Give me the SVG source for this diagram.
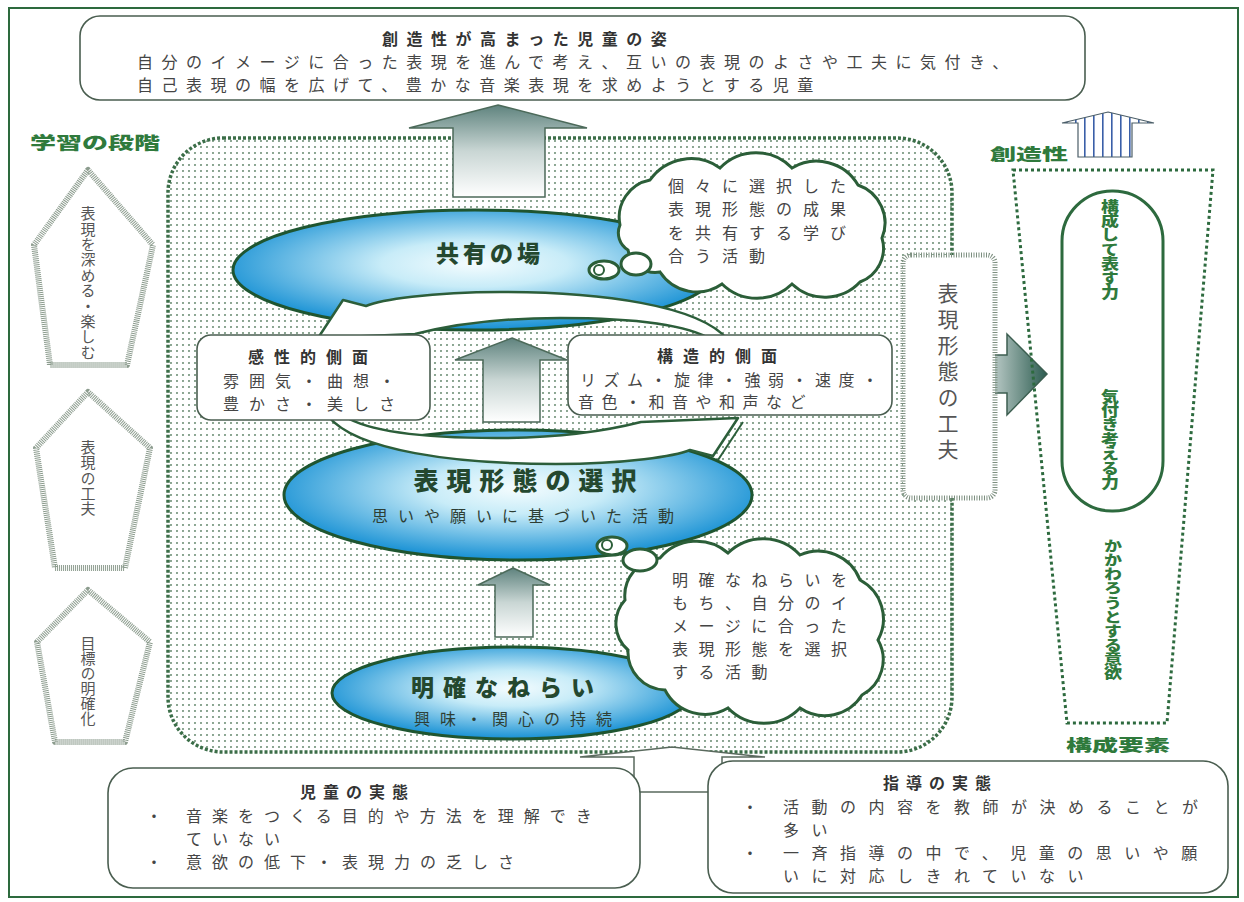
<svg xmlns="http://www.w3.org/2000/svg" width="1244" height="902" viewBox="0 0 1244 902">
<defs>
<style>
text{font-family:"Noto Sans CJK JP","Noto Sans",sans-serif;}
.body{font-size:16px;fill:#454545;}
.ttl{font-size:16px;fill:#333;font-weight:600;}
.heavy{font-weight:900;fill:#2f7a3c;}
.vgray{fill:#555;writing-mode:vertical-rl;}
.vgreen{fill:#2f7a3c;font-weight:900;writing-mode:vertical-rl;font-size:18px;}
.box{fill:#fff;stroke:#4a5e50;stroke-width:1.6;}
.pent{fill:#fff;stroke:#8c9c8e;stroke-width:6;stroke-dasharray:1 1;stroke-linejoin:round;}
.ell{stroke:#1f5530;stroke-width:3;}
.cloud{fill:#fff;stroke:#2b5e38;stroke-width:3;}
.band{fill:#fff;stroke:#2c5e3a;stroke-width:2.5;stroke-linejoin:round;}
.garrow{fill:url(#gArrow);stroke:#4c6a5a;stroke-width:1.5;}
.etxt{font-weight:900;fill:#24482f;}
</style>
<pattern id="dots" width="6" height="6" patternUnits="userSpaceOnUse"><rect width="6" height="6" fill="#fff"/><circle cx="3" cy="3" r="1.05" fill="#6f9077"/></pattern>
<pattern id="stripes" width="9" height="10" patternUnits="userSpaceOnUse"><rect width="9" height="10" fill="#fff"/><rect x="4" width="1.6" height="10" fill="#3a5fa8"/></pattern>
<radialGradient id="gBlue" cx="0.5" cy="0.45" r="0.55"><stop offset="0" stop-color="#f4fcfe"/><stop offset="0.35" stop-color="#c8ecf8"/><stop offset="1" stop-color="#1690d4"/></radialGradient>
<linearGradient id="gArrow" x1="0" y1="0" x2="0" y2="1"><stop offset="0" stop-color="#5f837e"/><stop offset="0.5" stop-color="#c9d6d4"/><stop offset="1" stop-color="#ffffff"/></linearGradient>
<linearGradient id="gRight" x1="0" y1="0" x2="1" y2="0"><stop offset="0" stop-color="#e4ebea"/><stop offset="1" stop-color="#2c5c50"/></linearGradient>
</defs>
<rect width="1244" height="902" fill="#fff"/>
<rect id="frame" x="9" y="8" width="1229" height="889" fill="none" stroke="#2d6a3e" stroke-width="2"/>

<g id="goal">
<rect class="box" x="80" y="16" width="1005" height="84" rx="20"/>
<text class="ttl" x="382" y="45" letter-spacing="8.5">創造性が高まった児童の姿</text>
<text class="body" x="137" y="68" letter-spacing="8.5">自分のイメージに合った表現を進んで考え、互いの表現のよさや工夫に気付き、</text>
<text class="body" x="137" y="91" letter-spacing="8.5">自己表現の幅を広げて、豊かな音楽表現を求めようとする児童</text>
</g>

<g id="stages">
<text class="heavy" x="30" y="149" font-size="17" textLength="130" lengthAdjust="spacingAndGlyphs">学習の段階</text>
<g id="stage3"><polygon class="pent" points="88,170 34,245 50,365 127,365 153,245"/><text class="vgray" x="88" y="206" font-size="15" letter-spacing="0.4">表現を深める・楽しむ</text></g>
<g id="stage2"><polygon class="pent" points="88,392 36,448 55,568 125,568 150,448"/><text class="vgray" x="88" y="440" font-size="15" letter-spacing="0.3">表現の工夫</text></g>
<g id="stage1"><polygon class="pent" points="88,590 37,642 55,742 125,742 150,642"/><text class="vgray" x="88" y="636" font-size="15" letter-spacing="0">目標の明確化</text></g>
</g>

<g id="region">
<rect x="168" y="138" width="784" height="614" rx="55" fill="url(#dots)" stroke="#3b6e48" stroke-width="3.5" stroke-dasharray="3 2"/>
</g>

<g id="connectors-back">
<polygon class="garrow" points="498,105 587,128 545,128 545,197 453,197 453,128 409,128"/>
</g>

<g id="share">
<ellipse class="ell" cx="475" cy="270" rx="242" ry="60" fill="url(#gBlue)"/>
<text class="etxt" x="490" y="262" font-size="23" text-anchor="middle" letter-spacing="4">共有の場</text>
</g>
<g id="select">
<ellipse class="ell" cx="518" cy="495" rx="234" ry="65" fill="url(#gBlue)"/>
<text class="etxt" x="529" y="490" font-size="25" text-anchor="middle" letter-spacing="8">表現形態の選択</text>
<text x="528" y="522" font-size="16" fill="#2e3e34" text-anchor="middle" letter-spacing="10">思いや願いに基づいた活動</text>
</g>
<g id="aim">
<ellipse class="ell" cx="512" cy="693" rx="180" ry="46" fill="url(#gBlue)"/>
<text class="etxt" x="507" y="696" font-size="23" text-anchor="middle" letter-spacing="9">明確なねらい</text>
<text x="518" y="725" font-size="16" fill="#2e3e34" text-anchor="middle" letter-spacing="10">興味・関心の持続</text>
</g>

<g id="connectors">
<path class="band" d="M 728 340 C 700 305 600 292 500 292 C 430 292 380 300 366 306 L 343 300 L 318 338 L 415 334 C 470 320 520 318 560 318 C 640 318 690 326 712 340 Z"/>
<path class="band" d="M 328 416 C 356 451 456 464 556 464 C 626 464 676 456 690 450 L 713 456 L 738 418 L 641 422 C 586 436 536 438 496 438 C 416 438 366 430 344 416 Z"/>
<line x1="718" y1="460" x2="743" y2="422" stroke="#2c5e3a" stroke-width="2"/>
<polygon class="garrow" points="512,338 567,360 540,360 540,422 483,422 483,360 455,360"/>
<polygon class="garrow" points="513,568 550,585 533,585 533,637 495,637 495,585 478,585"/>
<polygon points="977,355 1007,355 1007,334 1047,374 1007,415 1007,393 977,393" fill="url(#gRight)" stroke="#3c5e50" stroke-width="1.5"/>
<polygon points="1108,112 1154,123 1132,123 1132,157 1078,157 1078,123 1062,123" fill="url(#stripes)" stroke="#4b5e68" stroke-width="1.2"/>
<polygon points="1110,310 1135,323 1123,323 1123,360 1135,360 1110,373 1085,360 1097,360 1097,323 1085,323" fill="url(#stripes)" stroke="#4b5e68" stroke-width="1.2"/>
<polygon points="580,757 672,747 765,757 722,757 722,792 634,792 634,757" fill="#fff" stroke="#5a6a5e" stroke-width="1.5"/>
</g>

<g id="kansei">
<rect class="box" x="197" y="335" width="233" height="85" rx="14"/>
<text class="ttl" x="248" y="363" letter-spacing="10">感性的側面</text>
<text class="body" x="223" y="387" letter-spacing="10">雰囲気・曲想・</text>
<text class="body" x="223" y="410" letter-spacing="10">豊かさ・美しさ</text>
</g>
<g id="kouzou">
<rect class="box" x="568" y="335" width="324" height="80" rx="14"/>
<text class="ttl" x="657" y="362" letter-spacing="10">構造的側面</text>
<text class="body" x="580" y="386" letter-spacing="7.5">リズム・旋律・強弱・速度・</text>
<text class="body" x="578" y="408" letter-spacing="7.5">音色・和音や和声など</text>
</g>

<g id="cloud-share">
<path class="cloud" d="M 620 225 A 38 38 0 0 1 650 180 A 50 50 0 0 1 720 168 A 50 50 0 0 1 792 168 A 48 48 0 0 1 858 185 A 40 40 0 0 1 882 238 A 36 36 0 0 1 860 282 A 48 48 0 0 1 792 284 A 50 50 0 0 1 722 284 A 44 44 0 0 1 660 272 A 28 28 0 0 1 628 250 A 20 20 0 0 1 620 225 Z"/>
<ellipse class="cloud" cx="636" cy="264" rx="15" ry="11"/>
<ellipse class="cloud" cx="604" cy="270" rx="15" ry="9" stroke-width="2.5"/>
<circle cx="599" cy="270" r="5" fill="#fff" stroke="#2b5e38" stroke-width="2"/>
<text class="body" x="668" y="192" letter-spacing="11">個々に選択した</text>
<text class="body" x="668" y="215" letter-spacing="11">表現形態の成果</text>
<text class="body" x="668" y="239" letter-spacing="11">を共有する学び</text>
<text class="body" x="668" y="262" letter-spacing="11">合う活動</text>
</g>

<g id="cloud-select">
<path class="cloud" d="M 625 600 A 38 38 0 0 1 660 558 A 48 48 0 0 1 728 553 A 50 50 0 0 1 800 555 A 45 45 0 0 1 860 580 A 44 44 0 0 1 878 640 A 40 40 0 0 1 862 695 A 44 44 0 0 1 800 708 A 50 50 0 0 1 728 708 A 45 45 0 0 1 665 690 A 38 38 0 0 1 628 650 A 35 35 0 0 1 625 600 Z"/>
<ellipse class="cloud" cx="640" cy="560" rx="17" ry="11"/>
<ellipse class="cloud" cx="612" cy="546" rx="15" ry="9" stroke-width="2.5"/>
<circle cx="607" cy="545" r="5" fill="#fff" stroke="#2b5e38" stroke-width="2"/>
<text class="body" x="672" y="586" letter-spacing="10.5">明確なねらいを</text>
<text class="body" x="672" y="609" letter-spacing="10.5">もち、自分のイ</text>
<text class="body" x="672" y="632" letter-spacing="10.5">メージに合った</text>
<text class="body" x="672" y="655" letter-spacing="10.5">表現形態を選択</text>
<text class="body" x="672" y="678" letter-spacing="10.5">する活動</text>
</g>

<g id="kufu">
<rect x="903" y="255" width="92" height="243" rx="8" fill="#fff" stroke="#7d8f80" stroke-width="5" stroke-dasharray="1 1.5"/>
<text class="vgray" x="948" y="283" font-size="21" letter-spacing="5">表現形態の工夫</text>
</g>

<g id="elements">
<text class="heavy" x="990" y="160" font-size="16" textLength="78" lengthAdjust="spacingAndGlyphs">創造性</text>
<polygon points="1013,170 1213,170 1167,723 1067,723" fill="none" stroke="#2d6a3e" stroke-width="3" stroke-dasharray="3 3"/>
<rect x="1062" y="191" width="101" height="320" rx="50" fill="#fff" stroke="#2d6a3e" stroke-width="3"/>
<g transform="translate(1110,199) scale(1,0.8)"><text class="vgreen" x="0" y="0">構成して表す力</text></g>
<g transform="translate(1110,389) scale(1,0.8)"><text class="vgreen" x="0" y="0">気付き考える力</text></g>
<g transform="translate(1113,539) scale(1,0.78)"><text class="vgreen" x="0" y="0">かかわろうとする意欲</text></g>
<text class="heavy" x="1066" y="751" font-size="16" textLength="104" lengthAdjust="spacingAndGlyphs">構成要素</text>
</g>

<g id="children">
<rect class="box" x="108" y="768" width="532" height="120" rx="25"/>
<text class="ttl" x="300" y="798" letter-spacing="7">児童の実態</text>
<text class="body" x="146" y="822">・</text>
<text class="body" x="186" y="822" letter-spacing="10">音楽をつくる目的や方法を理解でき</text>
<text class="body" x="186" y="845" letter-spacing="10">ていない</text>
<text class="body" x="146" y="868">・</text>
<text class="body" x="186" y="868" letter-spacing="10">意欲の低下・表現力の乏しさ</text>
</g>

<g id="teaching">
<rect class="box" x="708" y="761" width="520" height="132" rx="25"/>
<text class="ttl" x="883" y="789" letter-spacing="7">指導の実態</text>
<text class="body" x="742" y="813">・</text>
<text class="body" x="783" y="813" letter-spacing="12.5">活動の内容を教師が決めることが</text>
<text class="body" x="783" y="836" letter-spacing="12.5">多い</text>
<text class="body" x="742" y="859">・</text>
<text class="body" x="783" y="859" letter-spacing="12.5">一斉指導の中で、児童の思いや願</text>
<text class="body" x="783" y="882" letter-spacing="12.5">いに対応しきれていない</text>
</g>
</svg>
